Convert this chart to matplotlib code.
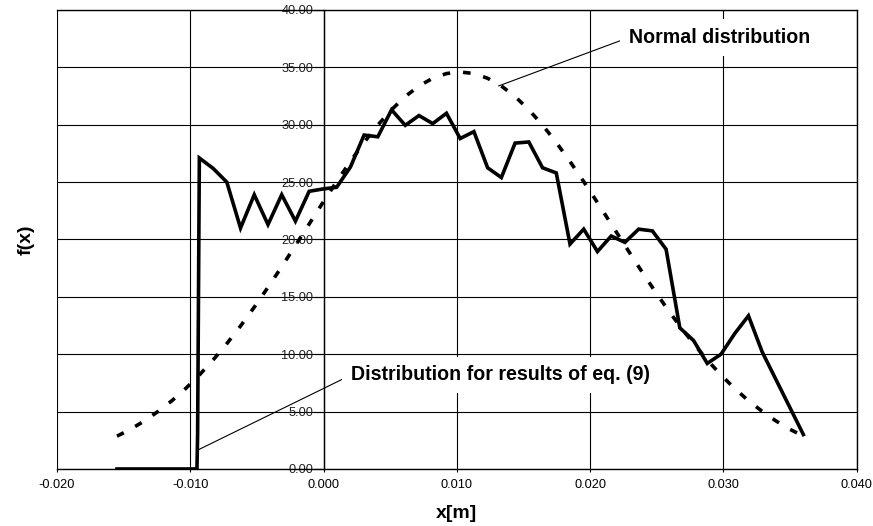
import matplotlib
import matplotlib.pyplot as plt
from matplotlib.ticker import FormatStrFormatter, MultipleLocator

matplotlib.use('Agg')

plt.rcParams['font.family'] = ['Liberation Sans', 'DejaVu Sans']
plt.rcParams['axes.unicode_minus'] = False

# bin centres (x[m]) shared by both curves
bin_x = [-0.01550, -0.01447, -0.01344, -0.01241, -0.01138, -0.01035,
         -0.00932, -0.00829, -0.00726, -0.00623, -0.00520, -0.00417,
         -0.00314, -0.00211, -0.00108, -0.00005, 0.00098, 0.00201,
         0.00304, 0.00407, 0.00510, 0.00613, 0.00716, 0.00819,
         0.00922, 0.01025, 0.01128, 0.01231, 0.01334, 0.01437,
         0.01540, 0.01643, 0.01746, 0.01849, 0.01952, 0.02055,
         0.02158, 0.02261, 0.02364, 0.02467, 0.02570, 0.02673,
         0.02776, 0.02879, 0.02982, 0.03085, 0.03188, 0.03291,
         0.03394, 0.03497, 0.03600]

# distribution for results of eq. (9)
eq9_y = [0.0, 0.0, 0.0, 0.0, 0.0, 0.0,
         27.1, 26.2, 25.0, 21.0, 23.9, 21.3,
         23.9, 21.6, 24.2, 24.4, 24.55, 26.3,
         29.1, 28.95, 31.3, 29.95, 30.8, 30.1,
         31.0, 28.8, 29.4, 26.25, 25.4, 28.4,
         28.5, 26.25, 25.8, 19.6, 20.9, 18.95,
         20.3, 19.75, 20.9, 20.75, 19.15, 12.3,
         11.2, 9.2, 10.0, 11.8, 13.35, 10.2,
         7.8, 5.4, 3.0]

# steep rise between the empty bins and the first filled one
jump_x = [-0.0095, -0.00945]
jump_y = [0.0, 3.0]

# normal distribution
normal_y = [2.86, 3.47, 4.19, 5.02, 5.95, 7.01,
            8.19, 9.50, 10.92, 12.46, 14.10, 15.83,
            17.63, 19.48, 21.35, 23.22, 25.04, 26.80,
            28.46, 29.97, 31.31, 32.46, 33.38, 34.05,
            34.46, 34.60, 34.46, 34.05, 33.38, 32.46,
            31.31, 29.97, 28.46, 26.80, 25.04, 23.22,
            21.35, 19.48, 17.63, 15.83, 14.10, 12.46,
            10.92, 9.50, 8.19, 7.01, 5.95, 5.02,
            4.19, 3.47, 2.86]

solid_x = bin_x[:6] + jump_x + bin_x[6:]
solid_y = eq9_y[:6] + jump_y + eq9_y[6:]

fig = plt.figure(figsize=(8.73, 5.26), dpi=100)
ax = fig.add_axes([0.0653, 0.1084, 0.9160, 0.8726])

ax.plot(bin_x, normal_y, color='black', lw=2.6, dashes=(2.1, 3.6), zorder=3)
ax.plot(solid_x, solid_y, color='black', lw=2.6, solid_joinstyle='miter', zorder=4)

ax.set_xlim(-0.02, 0.04)
ax.set_ylim(0, 40)
ax.xaxis.set_major_locator(MultipleLocator(0.01))
ax.yaxis.set_major_locator(MultipleLocator(5))
ax.xaxis.set_major_formatter(FormatStrFormatter('%.3f'))
ax.yaxis.set_major_formatter(FormatStrFormatter('%.2f'))

# grid + frame
ax.set_axisbelow(True)
ax.grid(True, color='black', lw=0.8)
ax.spines['left'].set_position(('data', 0))
for sp in ax.spines.values():
    sp.set_linewidth(1.0)
    sp.set_color('black')

ax.tick_params(axis='x', direction='out', length=2.5, width=0.8, pad=5, labelsize=9.2)
ax.tick_params(axis='y', direction='out', length=7, width=0.8, pad=0.5, labelsize=9.2,
               labelcolor='#222222')

ax.set_xlabel('x[m]', fontsize=14, fontweight='bold')
ax.xaxis.set_label_coords(0.5, -0.078)
ax.set_ylabel('f(x)', fontsize=14, fontweight='bold')
ax.yaxis.set_label_coords(-0.028, 0.5)

# labels with leader lines
box = dict(boxstyle='square,pad=0.45', fc='white', ec='none')
ax.annotate('Normal distribution', xy=(0.01313, 33.38), xytext=(0.0229, 37.6),
            ha='left', va='center', fontsize=14.1, fontweight='bold', bbox=box, zorder=5,
            arrowprops=dict(arrowstyle='-', color='black', lw=0.8, relpos=(0, 0.5),
                            shrinkA=0, shrinkB=0))
ax.annotate('Distribution for results of eq. (9)', xy=(-0.00942, 1.66), xytext=(0.00208, 8.2),
            ha='left', va='center', fontsize=14.1, fontweight='bold', bbox=box, zorder=5,
            arrowprops=dict(arrowstyle='-', color='black', lw=0.8, relpos=(0, 0.5),
                            shrinkA=0, shrinkB=0))

fig.savefig('out.png', dpi=100)
